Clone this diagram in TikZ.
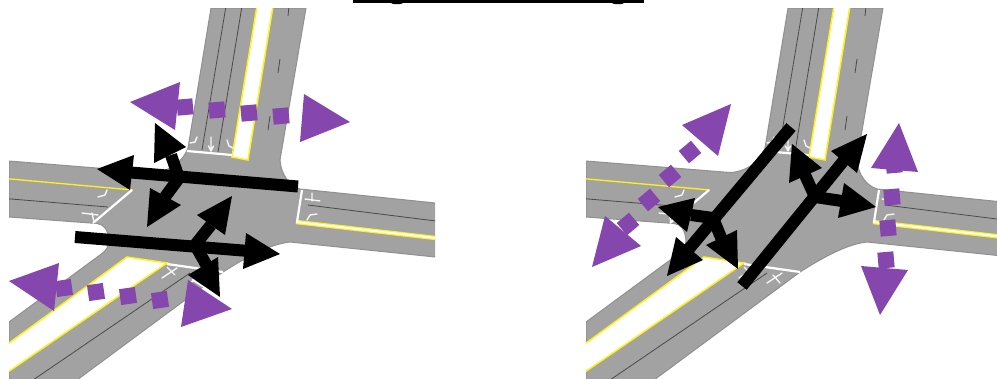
\documentclass[tikz,border=0pt]{standalone}
\definecolor{roadgrey}{HTML}{A2A2A2}
\definecolor{roadedge}{HTML}{909090}
\definecolor{lanedark}{HTML}{4A4A4A}
\definecolor{centreyellow}{HTML}{FFF21A}
\definecolor{signalpurple}{HTML}{8547AE}
\tikzset{
  roadfill/.style={fill=roadgrey,draw=roadedge,line width=1pt},
  laneline/.style={draw=lanedark,line width=0.8pt},
  yellowedge/.style={draw=centreyellow,line width=1.5pt,fill=white,line join=miter},
  yellowline/.style={draw=centreyellow,line width=1.3pt},
  stopline/.style={draw=white,line width=2.2pt},
  roadmark/.style={draw=white!92!gray,line width=1.4pt,line join=round,line cap=round},
  blackshaft/.style={draw=black,line width=12pt,line join=miter},
  blackhead/.style={fill=black},
  purplehead/.style={fill=signalpurple},
  purpleblock/.style={fill=signalpurple}
}
\newcommand{\roadnet}{%
  \path[roadfill] (211,8) -- (188,148) .. controls (184,160) and (170,172) .. (153,172.5)
    -- (9,161) -- (9,217) -- (97,223.5) .. controls (104,224) and (108,230) .. (109,240)
    .. controls (109,247) and (106,251) .. (100,255) -- (9,322) -- (9,380) -- (77,380)
    -- (223,272) .. controls (245,258) and (270,244) .. (290,242) -- (440,257.5)
    -- (440,203.5) -- (300,189) .. controls (290,186) and (281,175) .. (280,160)
    -- (306,8) -- cycle;
  \path[yellowedge] (257,6) -- (273,6) -- (248,160) -- (232,157) -- cycle;
  \path[yellowedge] (5,346) -- (127,257) -- (167,263) -- (5,374) -- cycle;
  \draw[laneline] (226,6) -- (202,150);
  \draw[laneline] (242,6) -- (218,152);
  \draw[laneline] (289,6) -- (288,16) (280,59) -- (278,73) (270,116) -- (268,130);
  \draw[laneline] (5,198.5) -- (108,207);
  \draw[laneline] (308,205) -- (440,221.5);
  \draw[laneline] (33,380) -- (190,273);
  \draw[yellowline] (5,178.5) -- (133,190);
  \draw[draw=centreyellow,line width=4.4pt] (296,222) -- (440,238.5);
  \draw[draw=white,line width=2pt] (296,222) -- (440,238.5);
  \draw[stopline] (187,151) -- (232,155);
  \draw[stopline] (132,190) -- (93,223);
  \draw[stopline] (302,190) -- (297,222);
  \draw[stopline] (167,264) -- (223,272);
  \draw[roadmark] (197,137) -- (195,142) -- (190,143);
  \draw[roadmark] (211,137) -- (211,150) (208.5,146) -- (211,151) -- (213.5,146);
  \draw[roadmark] (227,140) -- (229,146) -- (233,148);
  \draw[roadmark] (107,190) -- (105,195) -- (98,197);
  \draw[roadmark] (82,213) -- (98,215) (92,213) -- (94,222);
  \draw[roadmark] (305,199) -- (320,201) (312,193) -- (312,201);
  \draw[roadmark] (317,214) -- (310,215) -- (307,220);
  \draw[roadmark] (162,278) -- (177,268) (167,267) -- (175,275);
  \draw[roadmark] (190,283) -- (205,273) (196,275) -- (203,283);
}
\begin{document}
\begin{tikzpicture}[x=1pt,y=-1pt]
\useasboundingbox (0,0) rectangle (997,378);
% top bar
\fill[black] (353,0) rectangle (644,3);
\fill[black] (397,3) ellipse (6 and 1.2);
\fill[black] (618,3) ellipse (6 and 1.2);
% road networks
\begin{scope}
  \clip (9,8) rectangle (435,378);
  \roadnet
\end{scope}
\begin{scope}[shift={(577,0)}]
  \clip (9,8) rectangle (420,378);
  \roadnet
\end{scope}
% left picture purple
\foreach \cx/\cy in {185/107,217/110,249/113,281/116}
  \path[purpleblock,rotate around={5:(\cx,\cy)}] (\cx-8,\cy-8) rectangle (\cx+8,\cy+8);
\path[purplehead] (130,102) -- (180,82) -- (175,130) -- cycle;
\path[purplehead] (350,122) -- (304,94) -- (300,142) -- cycle;
\foreach \cx/\cy in {64/288,96/292,128/296,160/300}
  \path[purpleblock,rotate around={8:(\cx,\cy)}] (\cx-8,\cy-8) rectangle (\cx+8,\cy+8);
\path[purplehead] (9,281) -- (59,263) -- (54,311) -- cycle;
\draw[draw=white,line width=1.5pt] (192,279.5) -- (206,288.5);
\path[purplehead] (232,309) -- (188,280) -- (181,327) -- cycle;
% left picture black
\draw[blackshaft] (298,186.5) -- (125,172);
\path[blackhead] (97,169) -- (134,155) -- (130,190) -- cycle;
\draw[blackshaft] (75,237) -- (255,251.5);
\path[blackhead] (280,254) -- (246,233) -- (243,269) -- cycle;
\draw[blackshaft] (171,155) -- (179,178) -- (165,197);
\path[blackhead] (155,123) -- (186,147) -- (154,163) -- cycle;
\path[blackhead] (147,227) -- (150,188) -- (181,205) -- cycle;
\draw[blackshaft] (211,225) -- (195,245) -- (207,266);
\path[blackhead] (232,196) -- (197,215) -- (225,235) -- cycle;
\path[blackhead] (220,297) -- (218,257) -- (188,275) -- cycle;
% right picture purple
\foreach \cx/\cy in {690/152,670/176,649/200,628/224}
  \path[purpleblock,rotate around={40:(\cx,\cy)}] (\cx-8,\cy-8) rectangle (\cx+8,\cy+8);
\path[purplehead] (731,104) -- (682,125) -- (718,156) -- cycle;
\path[purplehead] (592,267) -- (605,216) -- (641,246) -- cycle;
\foreach \cx/\cy in {894/165,892/197,888/228,886/260}
  \path[purpleblock,rotate around={5:(\cx,\cy)}] (\cx-8,\cy-8) rectangle (\cx+8,\cy+8);
\path[purplehead] (899,123) -- (871,168) -- (918,172) -- cycle;
\path[purplehead] (880,315) -- (861,266) -- (908,270) -- cycle;
% right picture black
\draw[blackshaft] (791,127) -- (688,250);
\path[blackhead] (667,276) -- (676,237) -- (703,260) -- cycle;
\draw[blackshaft] (742,286) -- (845,159);
\path[blackhead] (867,134) -- (831,151) -- (857,173) -- cycle;
\draw[blackshaft] (805,175) -- (815,197) -- (842,201);
\path[blackhead] (792,144) -- (822,168) -- (789,183) -- cycle;
\path[blackhead] (876,207) -- (844,183) -- (838,218) -- cycle;
\draw[blackshaft] (691,215) -- (713,218) -- (722,240);
\path[blackhead] (658,207) -- (695,198) -- (687,232) -- cycle;
\path[blackhead] (738,269) -- (737,230) -- (706,245) -- cycle;
\end{tikzpicture}
\end{document}
